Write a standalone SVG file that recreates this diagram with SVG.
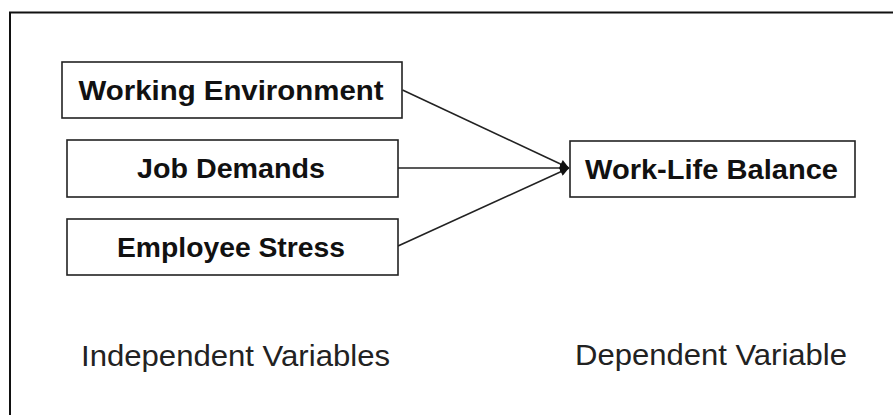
<svg xmlns="http://www.w3.org/2000/svg" width="893" height="415" viewBox="0 0 893 415">
<defs>
<style>
.box{fill:#fff;stroke:#222;stroke-width:1.6}
.lbl{font-family:"Liberation Sans",Arial,sans-serif;font-weight:bold;font-size:28px;fill:#111;text-anchor:middle}
.cap{font-family:"Liberation Sans",Arial,sans-serif;font-size:30px;fill:#222;text-anchor:start}
.edge{stroke:#222;stroke-width:1.6;fill:none;marker-end:url(#arr)}
</style>
<marker id="arr" viewBox="0 0 10 10" refX="10" refY="5" markerWidth="11" markerHeight="9" markerUnits="userSpaceOnUse" orient="auto">
<path d="M0,0 L10,5 L0,10 z" fill="#111"/>
</marker>
</defs>
<rect width="893" height="415" fill="#fff"/>
<path d="M10,415 V12.5 H893" fill="none" stroke="#111" stroke-width="2"/>
<g id="connectors">
<line class="edge" x1="402.5" y1="90" x2="569" y2="168"/>
<line class="edge" x1="398" y1="168" x2="569" y2="168"/>
<line class="edge" x1="398" y1="246" x2="569" y2="168"/>
</g>
<g id="working-environment">
<rect class="box" x="62" y="62" width="340" height="56"/>
<text class="lbl" x="231" y="100" textLength="305" lengthAdjust="spacingAndGlyphs">Working Environment</text>
</g>
<g id="job-demands">
<rect class="box" x="67" y="140" width="331" height="57"/>
<text class="lbl" x="231" y="178" textLength="188" lengthAdjust="spacingAndGlyphs">Job Demands</text>
</g>
<g id="employee-stress">
<rect class="box" x="67" y="219" width="331" height="56"/>
<text class="lbl" x="231" y="257" textLength="228" lengthAdjust="spacingAndGlyphs">Employee Stress</text>
</g>
<g id="work-life-balance">
<rect class="box" x="570" y="141" width="285" height="56"/>
<text class="lbl" x="711.5" y="179" textLength="253" lengthAdjust="spacingAndGlyphs">Work-Life Balance</text>
</g>
<g id="captions">
<text class="cap" x="81" y="366" textLength="309" lengthAdjust="spacingAndGlyphs">Independent Variables</text>
<text class="cap" x="575" y="365" textLength="272" lengthAdjust="spacingAndGlyphs">Dependent Variable</text>
</g>
</svg>
